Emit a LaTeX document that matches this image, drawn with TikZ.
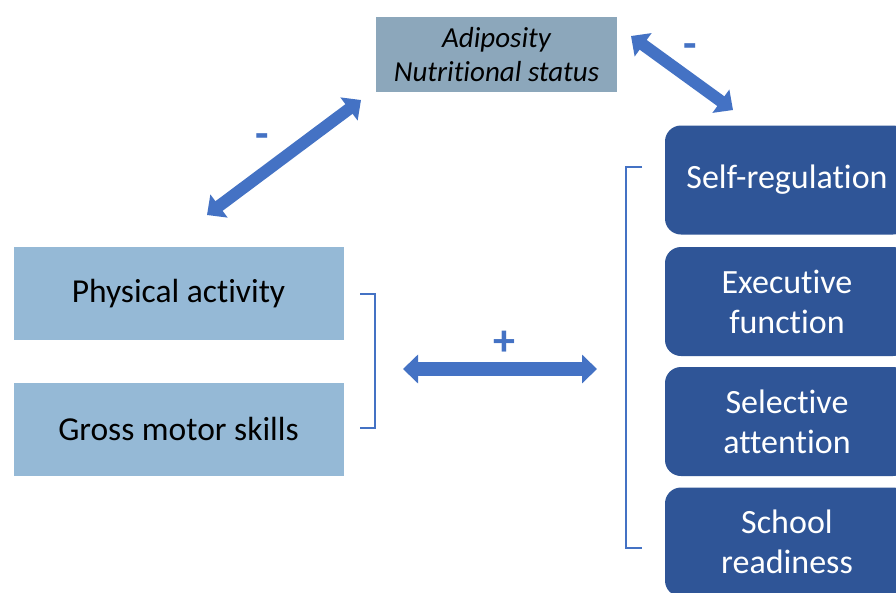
\documentclass[tikz,border=0pt]{standalone}
\usepackage{fontspec}
\setmainfont[Ligatures=NoCommon]{Carlito}
\usetikzlibrary{arrows.meta}
\definecolor{arrowblue}{HTML}{4472C4}
\definecolor{darkbox}{HTML}{2F5597}
\definecolor{lightbox}{HTML}{95B9D6}
\definecolor{topbox}{HTML}{8CA7BB}
\tikzset{
  lbox/.style={fill=lightbox, minimum width=330pt, minimum height=93pt, inner sep=0pt, font=\fontsize{33.5}{40}\selectfont, text=black},
  rbox/.style={fill=darkbox, rounded corners=16pt, minimum width=244pt, minimum height=109pt, inner sep=0pt, align=center, font=\fontsize{34}{40}\selectfont, text=white},
  tbox/.style={fill=topbox, minimum width=241pt, minimum height=75pt, inner sep=0pt, align=center, font=\fontsize{29}{34}\selectfont\itshape, text=black},
  bigarrow/.style={draw=arrowblue, line width=12pt, {Triangle[width=28pt,length=15pt]}-{Triangle[width=28pt,length=15pt]}},
  bracket/.style={draw=arrowblue, line width=1.3pt},
  sign/.style={text=arrowblue, font=\fontsize{44}{44}\selectfont\bfseries, inner sep=0pt}
}
\begin{document}
\begin{tikzpicture}[x=1pt,y=-1pt]
\useasboundingbox (0,0) rectangle (896,592);
\clip (0,0) rectangle (896,592);
\fill[white] (0,0) rectangle (896,592);
% nodes
\node[tbox] (adip) at (496.5,54.5) {Adiposity\\Nutritional status};
\node[lbox] (pa) at (178.5,293.5) {Physical activity};
\node[lbox] (gms) at (178.5,429) {Gross motor skills};
\node[rbox] (sr) at (787,180) {Self-regulation};
\node[rbox] (ef) at (787,301.5) {Executive\\function};
\node[rbox] (sa) at (787,421.5) {Selective\\attention};
\node[rbox] (sch) at (787,542) {School\\readiness};
% arrow end points
\coordinate (l1) at (207,215);
\coordinate (l2) at (361,100);
\coordinate (r1) at (631,36);
\coordinate (r2) at (733,110);
\coordinate (h1) at (403,369);
\coordinate (h2) at (597,369);
\draw[bigarrow] (l1) -- (l2);
\draw[bigarrow] (r1) -- (r2);
\draw[bigarrow, line width=14pt] (h1) -- (h2);
% signs
\node[sign] (m1) at (262,141) {-};
\node[sign] (m2) at (690,51) {-};
\node[sign] (p1) at (504,343) {+};
% brackets
\draw[bracket] (360,294) -- (375,294) -- (375,428) -- (360,428);
\draw[bracket] (642,167) -- (626,167) -- (626,548) -- (642,548);
\end{tikzpicture}
\end{document}
